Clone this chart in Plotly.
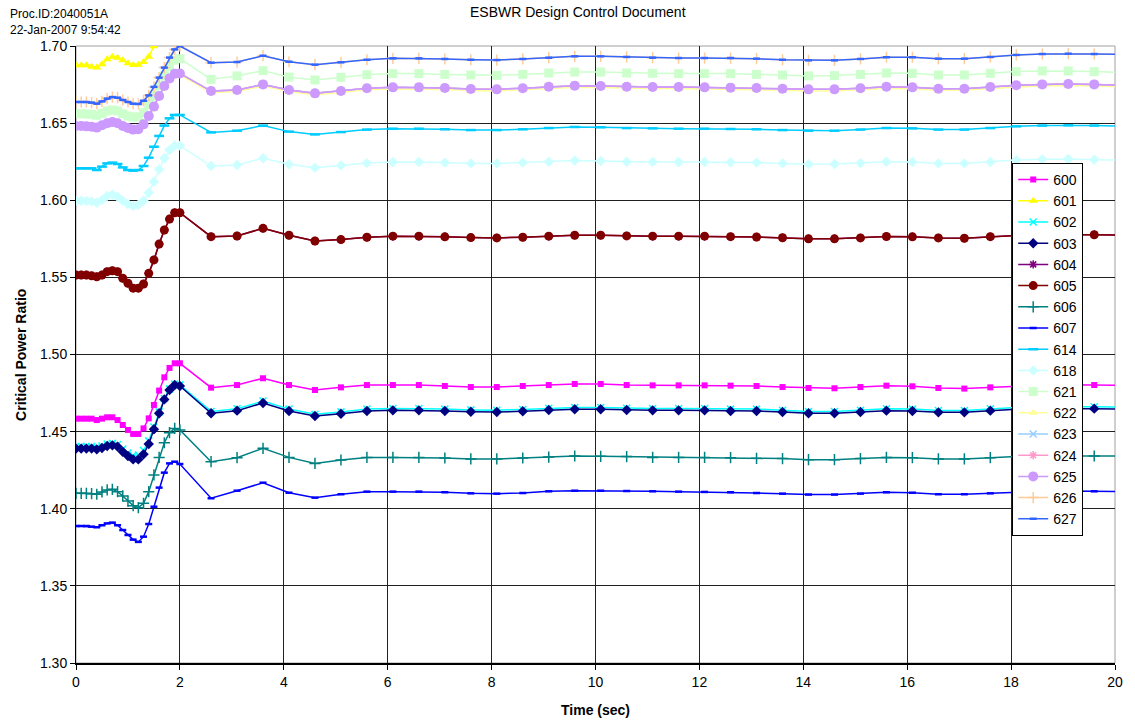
import plotly.graph_objects as go

# Time points (s)
time_s = [0.0, 0.1, 0.2, 0.3, 0.4, 0.5, 0.6, 0.7, 0.8, 0.9, 1.0, 1.1, 1.2, 1.3, 1.4, 1.5, 1.6, 1.7, 1.8, 1.9, 2.0,
          2.6, 3.1, 3.6, 4.1, 4.6, 5.1, 5.6, 6.1, 6.6, 7.1, 7.6, 8.1, 8.6, 9.1, 9.6, 10.1, 10.6, 11.1, 11.6,
          12.1, 12.6, 13.1, 13.6, 14.1, 14.6, 15.1, 15.6, 16.1, 16.6, 17.1, 17.6, 18.1, 18.6, 19.1, 19.6, 20.1]

series_names = ["600", "601", "602", "603", "604", "605", "606", "607", "614", "618",
                "621", "622", "623", "624", "625", "626", "627"]

cpr_600 = [1.4584, 1.4584, 1.4584, 1.4584, 1.4575, 1.4584, 1.4593, 1.4593, 1.4575, 1.4543, 1.4511, 1.4485, 1.4485, 1.4521, 1.4586, 1.4673, 1.4766, 1.4852, 1.4913, 1.4943, 1.4943,
           1.4785, 1.4802, 1.4846, 1.4802, 1.4770, 1.4787, 1.4802, 1.4802, 1.4802, 1.4796, 1.4789, 1.4789, 1.4796, 1.4802, 1.4809, 1.4809, 1.4802, 1.4800, 1.4800,
           1.4800, 1.4798, 1.4796, 1.4789, 1.4783, 1.4781, 1.4789, 1.4798, 1.4794, 1.4783, 1.4779, 1.4787, 1.4798, 1.4802, 1.4804, 1.4802, 1.4800]
cpr_601 = [1.6875, 1.6875, 1.6875, 1.6866, 1.6860, 1.6881, 1.6914, 1.6931, 1.6924, 1.6907, 1.6888, 1.6877, 1.6879, 1.6896, 1.6931, 1.6998, 1.7060, 1.7140, 1.7210, 1.7250, 1.7265,
           1.7160, 1.7165, 1.7205, 1.7168, 1.7150, 1.7163, 1.7180, 1.7188, 1.7188, 1.7184, 1.7180, 1.7178, 1.7184, 1.7192, 1.7200, 1.7200, 1.7196, 1.7192, 1.7190,
           1.7190, 1.7190, 1.7186, 1.7180, 1.7176, 1.7176, 1.7184, 1.7194, 1.7194, 1.7186, 1.7186, 1.7196, 1.7208, 1.7214, 1.7216, 1.7214, 1.7212]
cpr_602 = [1.4403, 1.4403, 1.4403, 1.4403, 1.4398, 1.4407, 1.4420, 1.4424, 1.4417, 1.4387, 1.4362, 1.4345, 1.4348, 1.4378, 1.4440, 1.4530, 1.4628, 1.4715, 1.4777, 1.4808, 1.4803,
           1.4631, 1.4648, 1.4698, 1.4646, 1.4613, 1.4628, 1.4646, 1.4650, 1.4650, 1.4646, 1.4641, 1.4639, 1.4644, 1.4652, 1.4657, 1.4657, 1.4652, 1.4650, 1.4650,
           1.4650, 1.4646, 1.4646, 1.4639, 1.4631, 1.4631, 1.4639, 1.4648, 1.4646, 1.4637, 1.4637, 1.4648, 1.4657, 1.4661, 1.4663, 1.4661, 1.4659]
cpr_603 = [1.4390, 1.4390, 1.4390, 1.4390, 1.4385, 1.4394, 1.4407, 1.4411, 1.4403, 1.4370, 1.4342, 1.4320, 1.4320, 1.4353, 1.4420, 1.4515, 1.4619, 1.4709, 1.4770, 1.4802, 1.4796,
           1.4619, 1.4636, 1.4686, 1.4634, 1.4601, 1.4616, 1.4634, 1.4638, 1.4638, 1.4634, 1.4629, 1.4627, 1.4632, 1.4640, 1.4645, 1.4645, 1.4640, 1.4638, 1.4638,
           1.4638, 1.4634, 1.4634, 1.4627, 1.4619, 1.4619, 1.4627, 1.4636, 1.4634, 1.4625, 1.4625, 1.4636, 1.4645, 1.4649, 1.4651, 1.4649, 1.4647]
cpr_604 = [1.5515, 1.5515, 1.5515, 1.5510, 1.5504, 1.5515, 1.5537, 1.5543, 1.5537, 1.5494, 1.5462, 1.5430, 1.5430, 1.5457, 1.5526, 1.5613, 1.5716, 1.5807, 1.5878, 1.5919, 1.5919,
           1.5764, 1.5768, 1.5818, 1.5773, 1.5736, 1.5745, 1.5760, 1.5767, 1.5767, 1.5763, 1.5758, 1.5756, 1.5760, 1.5767, 1.5773, 1.5773, 1.5769, 1.5767, 1.5767,
           1.5767, 1.5764, 1.5762, 1.5757, 1.5750, 1.5750, 1.5756, 1.5765, 1.5763, 1.5756, 1.5754, 1.5764, 1.5772, 1.5776, 1.5778, 1.5776, 1.5775]
cpr_605 = [1.5515, 1.5515, 1.5515, 1.5510, 1.5504, 1.5515, 1.5537, 1.5543, 1.5537, 1.5494, 1.5462, 1.5430, 1.5430, 1.5457, 1.5526, 1.5613, 1.5716, 1.5807, 1.5878, 1.5919, 1.5919,
           1.5764, 1.5768, 1.5818, 1.5773, 1.5736, 1.5745, 1.5760, 1.5767, 1.5767, 1.5763, 1.5758, 1.5756, 1.5760, 1.5767, 1.5773, 1.5773, 1.5769, 1.5767, 1.5767,
           1.5767, 1.5764, 1.5762, 1.5757, 1.5750, 1.5750, 1.5756, 1.5765, 1.5763, 1.5756, 1.5754, 1.5764, 1.5772, 1.5776, 1.5778, 1.5776, 1.5775]
cpr_606 = [1.4100, 1.4100, 1.4100, 1.4098, 1.4094, 1.4109, 1.4122, 1.4126, 1.4111, 1.4083, 1.4050, 1.4020, 1.4007, 1.4035, 1.4111, 1.4219, 1.4333, 1.4428, 1.4493, 1.4521, 1.4511,
           1.4305, 1.4331, 1.4392, 1.4333, 1.4294, 1.4316, 1.4333, 1.4333, 1.4333, 1.4329, 1.4323, 1.4323, 1.4329, 1.4335, 1.4342, 1.4340, 1.4338, 1.4333, 1.4333,
           1.4333, 1.4331, 1.4327, 1.4325, 1.4318, 1.4318, 1.4325, 1.4333, 1.4331, 1.4323, 1.4323, 1.4331, 1.4338, 1.4342, 1.4344, 1.4342, 1.4341]
cpr_607 = [1.3888, 1.3888, 1.3888, 1.3884, 1.3880, 1.3893, 1.3905, 1.3910, 1.3893, 1.3862, 1.3830, 1.3800, 1.3785, 1.3819, 1.3901, 1.4013, 1.4137, 1.4234, 1.4294, 1.4305, 1.4290,
           1.4068, 1.4117, 1.4169, 1.4104, 1.4072, 1.4094, 1.4111, 1.4111, 1.4111, 1.4107, 1.4100, 1.4098, 1.4102, 1.4113, 1.4117, 1.4117, 1.4115, 1.4113, 1.4111,
           1.4109, 1.4107, 1.4102, 1.4098, 1.4092, 1.4092, 1.4098, 1.4107, 1.4104, 1.4094, 1.4094, 1.4100, 1.4108, 1.4113, 1.4115, 1.4113, 1.4111]
cpr_614 = [1.6207, 1.6207, 1.6207, 1.6207, 1.6196, 1.6218, 1.6239, 1.6244, 1.6235, 1.6213, 1.6196, 1.6192, 1.6196, 1.6222, 1.6276, 1.6347, 1.6417, 1.6484, 1.6531, 1.6553, 1.6553,
           1.6440, 1.6451, 1.6484, 1.6445, 1.6427, 1.6442, 1.6458, 1.6464, 1.6464, 1.6460, 1.6455, 1.6455, 1.6460, 1.6468, 1.6475, 1.6473, 1.6468, 1.6466, 1.6464,
           1.6464, 1.6462, 1.6460, 1.6455, 1.6451, 1.6451, 1.6458, 1.6468, 1.6466, 1.6458, 1.6458, 1.6468, 1.6479, 1.6484, 1.6486, 1.6484, 1.6481]
cpr_618 = [1.5997, 1.5997, 1.5995, 1.5993, 1.5984, 1.6002, 1.6028, 1.6036, 1.6023, 1.5997, 1.5976, 1.5963, 1.5971, 1.5997, 1.6049, 1.6120, 1.6200, 1.6272, 1.6326, 1.6354, 1.6354,
           1.6222, 1.6229, 1.6272, 1.6233, 1.6211, 1.6226, 1.6241, 1.6248, 1.6248, 1.6244, 1.6239, 1.6239, 1.6244, 1.6250, 1.6257, 1.6254, 1.6250, 1.6248, 1.6248,
           1.6248, 1.6246, 1.6244, 1.6239, 1.6233, 1.6235, 1.6241, 1.6250, 1.6248, 1.6239, 1.6239, 1.6248, 1.6261, 1.6265, 1.6267, 1.6263, 1.6261]
cpr_621 = [1.6561, 1.6561, 1.6559, 1.6557, 1.6551, 1.6563, 1.6579, 1.6585, 1.6579, 1.6561, 1.6546, 1.6540, 1.6540, 1.6568, 1.6622, 1.6676, 1.6741, 1.6806, 1.6866, 1.6909, 1.6918,
           1.6784, 1.6806, 1.6840, 1.6799, 1.6780, 1.6797, 1.6814, 1.6821, 1.6821, 1.6816, 1.6812, 1.6810, 1.6816, 1.6825, 1.6831, 1.6831, 1.6825, 1.6823, 1.6821,
           1.6821, 1.6821, 1.6816, 1.6812, 1.6806, 1.6808, 1.6816, 1.6825, 1.6823, 1.6812, 1.6812, 1.6823, 1.6834, 1.6838, 1.6838, 1.6834, 1.6829]
cpr_622 = [1.6471, 1.6471, 1.6469, 1.6467, 1.6461, 1.6476, 1.6489, 1.6497, 1.6489, 1.6471, 1.6458, 1.6448, 1.6450, 1.6482, 1.6536, 1.6597, 1.6666, 1.6731, 1.6780, 1.6810, 1.6812,
           1.6698, 1.6705, 1.6741, 1.6705, 1.6683, 1.6698, 1.6716, 1.6722, 1.6722, 1.6718, 1.6711, 1.6709, 1.6716, 1.6726, 1.6733, 1.6731, 1.6726, 1.6724, 1.6724,
           1.6722, 1.6720, 1.6718, 1.6713, 1.6709, 1.6709, 1.6716, 1.6726, 1.6722, 1.6713, 1.6713, 1.6724, 1.6735, 1.6741, 1.6744, 1.6741, 1.6737]
cpr_623 = [1.6481, 1.6481, 1.6479, 1.6477, 1.6471, 1.6486, 1.6499, 1.6507, 1.6499, 1.6481, 1.6468, 1.6458, 1.6460, 1.6492, 1.6546, 1.6607, 1.6676, 1.6741, 1.6790, 1.6820, 1.6822,
           1.6708, 1.6715, 1.6751, 1.6715, 1.6693, 1.6708, 1.6726, 1.6732, 1.6732, 1.6728, 1.6721, 1.6719, 1.6726, 1.6736, 1.6743, 1.6741, 1.6736, 1.6734, 1.6734,
           1.6732, 1.6730, 1.6728, 1.6723, 1.6719, 1.6719, 1.6726, 1.6736, 1.6732, 1.6723, 1.6723, 1.6734, 1.6745, 1.6751, 1.6754, 1.6751, 1.6747]
cpr_624 = [1.6481, 1.6481, 1.6479, 1.6477, 1.6471, 1.6486, 1.6499, 1.6507, 1.6499, 1.6481, 1.6468, 1.6458, 1.6460, 1.6492, 1.6546, 1.6607, 1.6676, 1.6741, 1.6790, 1.6820, 1.6822,
           1.6708, 1.6715, 1.6751, 1.6715, 1.6693, 1.6708, 1.6726, 1.6732, 1.6732, 1.6728, 1.6721, 1.6719, 1.6726, 1.6736, 1.6743, 1.6741, 1.6736, 1.6734, 1.6734,
           1.6732, 1.6730, 1.6728, 1.6723, 1.6719, 1.6719, 1.6726, 1.6736, 1.6732, 1.6723, 1.6723, 1.6734, 1.6745, 1.6751, 1.6754, 1.6751, 1.6747]
cpr_625 = [1.6481, 1.6481, 1.6479, 1.6477, 1.6471, 1.6486, 1.6499, 1.6507, 1.6499, 1.6481, 1.6468, 1.6458, 1.6460, 1.6492, 1.6546, 1.6607, 1.6676, 1.6741, 1.6790, 1.6820, 1.6822,
           1.6708, 1.6715, 1.6751, 1.6715, 1.6693, 1.6708, 1.6726, 1.6732, 1.6732, 1.6728, 1.6721, 1.6719, 1.6726, 1.6736, 1.6743, 1.6741, 1.6736, 1.6734, 1.6734,
           1.6732, 1.6730, 1.6728, 1.6723, 1.6719, 1.6719, 1.6726, 1.6736, 1.6732, 1.6723, 1.6723, 1.6734, 1.6745, 1.6751, 1.6754, 1.6751, 1.6747]
cpr_626 = [1.6637, 1.6637, 1.6637, 1.6633, 1.6626, 1.6641, 1.6659, 1.6669, 1.6665, 1.6650, 1.6637, 1.6626, 1.6624, 1.6645, 1.6680, 1.6735, 1.6795, 1.6860, 1.6925, 1.6978, 1.7000,
           1.6892, 1.6896, 1.6937, 1.6898, 1.6879, 1.6894, 1.6911, 1.6920, 1.6920, 1.6916, 1.6911, 1.6909, 1.6916, 1.6924, 1.6933, 1.6933, 1.6929, 1.6924, 1.6922,
           1.6922, 1.6922, 1.6918, 1.6911, 1.6907, 1.6907, 1.6916, 1.6927, 1.6927, 1.6918, 1.6918, 1.6929, 1.6942, 1.6948, 1.6950, 1.6948, 1.6946]
cpr_627 = [1.6637, 1.6637, 1.6637, 1.6633, 1.6626, 1.6641, 1.6659, 1.6669, 1.6665, 1.6650, 1.6637, 1.6626, 1.6624, 1.6645, 1.6680, 1.6735, 1.6795, 1.6860, 1.6925, 1.6978, 1.7000,
           1.6892, 1.6896, 1.6937, 1.6898, 1.6879, 1.6894, 1.6911, 1.6920, 1.6920, 1.6916, 1.6911, 1.6909, 1.6916, 1.6924, 1.6933, 1.6933, 1.6929, 1.6924, 1.6922,
           1.6922, 1.6922, 1.6918, 1.6911, 1.6907, 1.6907, 1.6916, 1.6927, 1.6927, 1.6918, 1.6918, 1.6929, 1.6942, 1.6948, 1.6950, 1.6948, 1.6946]

x_ticks = [0, 2, 4, 6, 8, 10, 12, 14, 16, 18, 20]
y_ticks = [1.30, 1.35, 1.40, 1.45, 1.50, 1.55, 1.60, 1.65, 1.70]

all_values = [cpr_600, cpr_601, cpr_602, cpr_603, cpr_604, cpr_605, cpr_606, cpr_607, cpr_614, cpr_618,
              cpr_621, cpr_622, cpr_623, cpr_624, cpr_625, cpr_626, cpr_627]

# style per series: (line colour, marker symbol, marker size, marker line width)
styles = [
    ("#FF00FF", "square", 6, 0),
    ("#FFFF00", "triangle-up", 8, 0),
    ("#00FFFF", "x-thin", 7, 1.5),
    ("#000080", "diamond", 8, 0),
    ("#800080", "asterisk", 7, 1.5),
    ("#800000", "circle", 9, 0),
    ("#008080", "cross-thin", 8, 1.5),
    ("#0000FF", "line-ew", 5, 2.5),
    ("#00CCFF", "line-ew", 7, 2.5),
    ("#CCFFFF", "diamond", 8, 0),
    ("#CCFFCC", "square", 9, 0),
    ("#FFFF99", "triangle-up", 8, 0),
    ("#99CCFF", "x-thin", 7, 1.5),
    ("#FF99CC", "asterisk", 7, 1.5),
    ("#CC99FF", "circle", 10, 0),
    ("#FFCC99", "cross-thin", 8, 1.5),
    ("#3366FF", "line-ew", 5, 2.5),
]

fig = go.Figure()
for name, vals, (col, sym, size, lw) in zip(series_names, all_values, styles):
    fig.add_trace(go.Scatter(
        x=time_s, y=vals, name=name, mode="lines+markers",
        line=dict(color=col, width=1.5),
        marker=dict(symbol=sym, size=size, color=col, line=dict(color=col, width=lw)),
    ))

font_family = "Liberation Sans, Arial, sans-serif"

fig.update_layout(
    width=1135, height=724,
    margin=dict(l=76, r=13, t=46, b=61),
    paper_bgcolor="white", plot_bgcolor="white",
    font=dict(family=font_family, color="black", size=14),
    showlegend=True,
    legend=dict(
        x=0.9694, xanchor="right", y=0.8104, yanchor="top",
        bgcolor="white", bordercolor="black", borderwidth=1,
        font=dict(size=14, family=font_family),
        tracegroupgap=0, itemwidth=30,
    ),
    xaxis=dict(
        range=[0, 20], tickvals=x_ticks, ticktext=[str(v) for v in x_ticks],
        showgrid=True, gridcolor="#202020", gridwidth=1,
        showline=True, linecolor="black", linewidth=2,
        ticks="outside", ticklen=5, tickcolor="black",
        zeroline=False, tickfont=dict(size=14),
    ),
    yaxis=dict(
        range=[1.30, 1.70], tickvals=y_ticks, ticktext=[f"{v:.2f}" for v in y_ticks],
        showgrid=True, gridcolor="#202020", gridwidth=1,
        showline=True, linecolor="black", linewidth=1,
        ticks="outside", ticklen=5, tickcolor="black",
        zeroline=False, tickfont=dict(size=14),
    ),
    shapes=[dict(type="rect", xref="paper", yref="paper", x0=0, x1=1, y0=0, y1=1,
                 line=dict(color="#A0A0A0", width=1), layer="below")],
    annotations=[
        dict(text="Proc.ID:2040051A<br>22-Jan-2007 9:54:42", xref="paper", yref="paper",
             x=-0.065, y=1.067, xanchor="left", yanchor="top", showarrow=False, align="left",
             font=dict(size=12, family=font_family)),
        dict(text="ESBWR Design Control Document", xref="paper", yref="paper",
             x=0.483, y=1.055, xanchor="center", yanchor="middle", showarrow=False,
             font=dict(size=14, family=font_family)),
        dict(text="<b>Time (sec)</b>", xref="paper", yref="paper",
             x=0.5, y=-0.0762, xanchor="center", yanchor="middle", showarrow=False,
             font=dict(size=14, family=font_family)),
        dict(text="<b>Critical Power Ratio</b>", xref="paper", yref="paper",
             x=-0.0535, y=0.5, xanchor="center", yanchor="middle", showarrow=False,
             textangle=-90, font=dict(size=14, family=font_family)),
    ],
)

fig.write_html("out.html", config={"displayModeBar": False},
               post_script="document.body.style.margin='0px';document.body.style.padding='0px';")
